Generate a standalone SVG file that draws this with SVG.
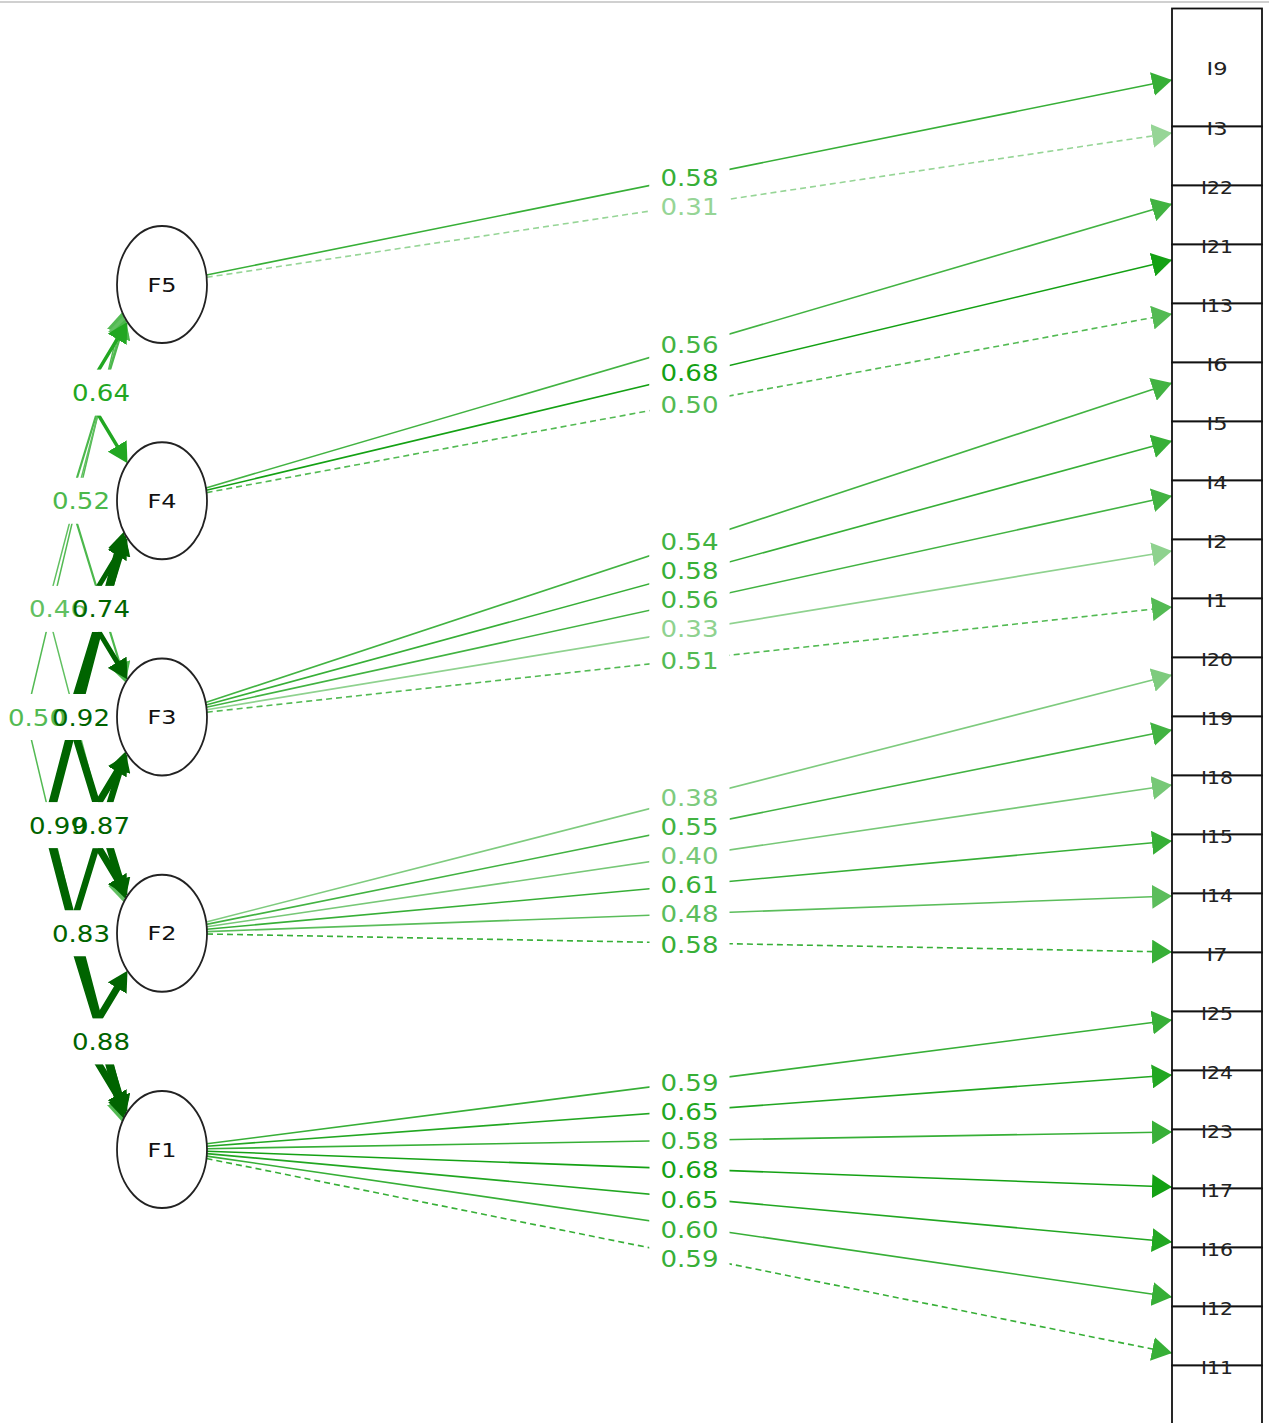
<svg xmlns="http://www.w3.org/2000/svg" width="1269" height="1423" viewBox="0 0 1269 1423">
<style>
.ld{fill:none;stroke-width:1.6}
.ds{stroke-dasharray:6 4}
.cv{fill:none;stroke-linejoin:round}
.lb{font-family:"DejaVu Sans",sans-serif;font-size:23px;text-anchor:middle}
.bg{fill:#fff}
.nd ellipse{fill:#fff;stroke:#222;stroke-width:1.8}
.nt{font-family:"DejaVu Sans",sans-serif;font-size:19px;text-anchor:middle;fill:#111}
.it rect{fill:#fff;stroke:#111;stroke-width:1.8}
.itx{font-family:"DejaVu Sans",sans-serif;font-size:17px;text-anchor:middle;fill:#222}
</style>
<defs>
<marker id="a31" markerUnits="userSpaceOnUse" markerWidth="20" markerHeight="24" refX="20" refY="12" orient="auto"><path d="M0,0L20,12L0,24z" fill="#96d596"/></marker>
<marker id="a33" markerUnits="userSpaceOnUse" markerWidth="20" markerHeight="24" refX="20" refY="12" orient="auto"><path d="M0,0L20,12L0,24z" fill="#8fd28f"/></marker>
<marker id="a38" markerUnits="userSpaceOnUse" markerWidth="20" markerHeight="24" refX="20" refY="12" orient="auto"><path d="M0,0L20,12L0,24z" fill="#7ecb7e"/></marker>
<marker id="a40" markerUnits="userSpaceOnUse" markerWidth="20" markerHeight="24" refX="20" refY="12" orient="auto"><path d="M0,0L20,12L0,24z" fill="#77c877"/></marker>
<marker id="a48" markerUnits="userSpaceOnUse" markerWidth="20" markerHeight="24" refX="20" refY="12" orient="auto"><path d="M0,0L20,12L0,24z" fill="#5bbd5b"/></marker>
<marker id="a50" markerUnits="userSpaceOnUse" markerWidth="20" markerHeight="24" refX="20" refY="12" orient="auto"><path d="M0,0L20,12L0,24z" fill="#53ba53"/></marker>
<marker id="a55" markerUnits="userSpaceOnUse" markerWidth="20" markerHeight="24" refX="20" refY="12" orient="auto"><path d="M0,0L20,12L0,24z" fill="#42b342"/></marker>
<marker id="a58" markerUnits="userSpaceOnUse" markerWidth="20" markerHeight="24" refX="20" refY="12" orient="auto"><path d="M0,0L20,12L0,24z" fill="#37af37"/></marker>
<marker id="a64" markerUnits="userSpaceOnUse" markerWidth="20" markerHeight="24" refX="20" refY="12" orient="auto"><path d="M0,0L20,12L0,24z" fill="#22a722"/></marker>
<marker id="a68" markerUnits="userSpaceOnUse" markerWidth="20" markerHeight="24" refX="20" refY="12" orient="auto"><path d="M0,0L20,12L0,24z" fill="#14a114"/></marker>
<marker id="bdk" markerUnits="userSpaceOnUse" markerWidth="20" markerHeight="22" refX="10" refY="11" orient="auto-start-reverse"><path d="M0,0L20,11L0,22z" fill="#006400"/></marker>
<marker id="b64" markerUnits="userSpaceOnUse" markerWidth="20" markerHeight="22" refX="10" refY="11" orient="auto-start-reverse"><path d="M0,0L20,11L0,22z" fill="#22a722"/></marker>
<marker id="b52" markerUnits="userSpaceOnUse" markerWidth="20" markerHeight="22" refX="10" refY="11" orient="auto-start-reverse"><path d="M0,0L20,11L0,22z" fill="#4cb84c"/></marker>
<marker id="b46" markerUnits="userSpaceOnUse" markerWidth="20" markerHeight="22" refX="10" refY="11" orient="auto-start-reverse"><path d="M0,0L20,11L0,22z" fill="#61c061"/></marker>
<marker id="b50" markerUnits="userSpaceOnUse" markerWidth="20" markerHeight="22" refX="10" refY="11" orient="auto-start-reverse"><path d="M0,0L20,11L0,22z" fill="#53ba53"/></marker>
</defs>
<rect x="0" y="0" width="1269" height="1423" fill="#fff"/>
<line x1="0" y1="2" x2="1269" y2="2" stroke="#d0d0d0" stroke-width="2"/>
<g id="connectors">
<g id="covariances">
<path class="cv" stroke="#53ba53" stroke-width="1.5" marker-start="url(#b50)" marker-end="url(#b50)" d="M119.99,321.73L26,717L119.99,1112.27"/>
<path class="cv" stroke="#61c061" stroke-width="1.5" marker-start="url(#b46)" marker-end="url(#b46)" d="M121.27,325.17L47,608.88L121.27,892.58"/>
<path class="cv" stroke="#4cb84c" stroke-width="2.2" marker-start="url(#b52)" marker-end="url(#b52)" d="M122.68,328.46L70,500.75L122.68,673.04"/>
<path class="cv" stroke="#22a722" stroke-width="3.5" marker-start="url(#b64)" marker-end="url(#b64)" d="M122.34,330.67L85,392.6L122.34,454.58"/>
<path class="cv" stroke="#006400" stroke-width="5" marker-start="url(#bdk)" marker-end="url(#bdk)" d="M122.34,546.92L85,608.9L122.34,670.83"/>
<path class="cv" stroke="#006400" stroke-width="6.5" marker-start="url(#bdk)" marker-end="url(#bdk)" d="M122.68,760.96L70,933.25L122.68,1105.54"/>
<path class="cv" stroke="#006400" stroke-width="7" marker-start="url(#bdk)" marker-end="url(#bdk)" d="M122.34,763.17L85,825.1L122.34,887.08"/>
<path class="cv" stroke="#006400" stroke-width="7" marker-start="url(#bdk)" marker-end="url(#bdk)" d="M122.34,979.42L85,1041.4L122.34,1103.33"/>
<path class="cv" stroke="#006400" stroke-width="7.5" marker-start="url(#bdk)" marker-end="url(#bdk)" d="M122.68,544.71L70,717L122.68,889.29"/>
<path class="cv" stroke="#006400" stroke-width="8.5" marker-start="url(#bdk)" marker-end="url(#bdk)" d="M121.27,541.42L47,825.13L121.27,1108.83"/>
</g>
<g id="loadings">
<path class="ld" stroke="#37af37" marker-end="url(#a58)" d="M206.5,275L1172,80"/>
<path class="ld ds" stroke="#96d596" marker-end="url(#a31)" d="M206.7,277.3L1172,133"/>
<path class="ld" stroke="#42b342" marker-end="url(#a55)" d="M205.9,487.9L1172,204"/>
<path class="ld" stroke="#14a114" marker-end="url(#a68)" d="M206.3,490.3L1172,260"/>
<path class="ld ds" stroke="#53ba53" marker-end="url(#a50)" d="M206.6,492.6L1172,314"/>
<path class="ld" stroke="#42b342" marker-end="url(#a55)" d="M205.6,702.6L1172,383"/>
<path class="ld" stroke="#37af37" marker-end="url(#a58)" d="M206,705L1172,441"/>
<path class="ld" stroke="#42b342" marker-end="url(#a55)" d="M206.4,707.3L1172,496"/>
<path class="ld" stroke="#8fd28f" marker-end="url(#a33)" d="M206.7,709.7L1172,551"/>
<path class="ld ds" stroke="#53ba53" marker-end="url(#a50)" d="M206.8,712.2L1172,607"/>
<path class="ld" stroke="#7ecb7e" marker-end="url(#a38)" d="M206.2,922L1172,675"/>
<path class="ld" stroke="#42b342" marker-end="url(#a55)" d="M206.5,924.4L1172,730"/>
<path class="ld" stroke="#77c877" marker-end="url(#a40)" d="M206.7,926.7L1172,785"/>
<path class="ld" stroke="#37af37" marker-end="url(#a58)" d="M206.9,929.2L1172,841"/>
<path class="ld" stroke="#5bbd5b" marker-end="url(#a48)" d="M207,931.6L1172,896"/>
<path class="ld ds" stroke="#37af37" marker-end="url(#a58)" d="M207,934L1172,952"/>
<path class="ld" stroke="#37af37" marker-end="url(#a58)" d="M206.8,1143.8L1172,1020"/>
<path class="ld" stroke="#22a722" marker-end="url(#a64)" d="M206.9,1146.2L1172,1075"/>
<path class="ld" stroke="#37af37" marker-end="url(#a58)" d="M207,1148.7L1172,1132"/>
<path class="ld" stroke="#14a114" marker-end="url(#a68)" d="M207,1151.2L1172,1187"/>
<path class="ld" stroke="#22a722" marker-end="url(#a64)" d="M206.9,1153.6L1172,1242"/>
<path class="ld" stroke="#37af37" marker-end="url(#a58)" d="M206.7,1156.1L1172,1297"/>
<path class="ld ds" stroke="#37af37" marker-end="url(#a58)" d="M206.5,1158.5L1172,1353"/>
</g>
<g id="label-backgrounds" class="bg">
<rect x="61" y="369.6" width="80" height="46"/>
<rect x="41" y="477.75" width="80" height="46"/>
<rect x="18" y="585.9" width="80" height="46"/>
<rect x="61" y="585.9" width="80" height="46"/>
<rect x="-3" y="694" width="80" height="46"/>
<rect x="41" y="694" width="80" height="46"/>
<rect x="18" y="802.1" width="80" height="46"/>
<rect x="61" y="802.1" width="80" height="46"/>
<rect x="41" y="910.25" width="80" height="46"/>
<rect x="61" y="1018.4" width="80" height="46"/>
<rect x="649.5" y="154" width="80" height="46"/>
<rect x="649.5" y="183" width="80" height="46"/>
<rect x="649.5" y="321" width="80" height="46"/>
<rect x="649.5" y="349" width="80" height="46"/>
<rect x="649.5" y="381" width="80" height="46"/>
<rect x="649.5" y="518" width="80" height="46"/>
<rect x="649.5" y="547" width="80" height="46"/>
<rect x="649.5" y="576" width="80" height="46"/>
<rect x="649.5" y="605" width="80" height="46"/>
<rect x="649.5" y="637" width="80" height="46"/>
<rect x="649.5" y="774" width="80" height="46"/>
<rect x="649.5" y="803" width="80" height="46"/>
<rect x="649.5" y="832" width="80" height="46"/>
<rect x="649.5" y="861" width="80" height="46"/>
<rect x="649.5" y="890" width="80" height="46"/>
<rect x="649.5" y="921" width="80" height="46"/>
<rect x="649.5" y="1059" width="80" height="46"/>
<rect x="649.5" y="1088" width="80" height="46"/>
<rect x="649.5" y="1117" width="80" height="46"/>
<rect x="649.5" y="1146" width="80" height="46"/>
<rect x="649.5" y="1176" width="80" height="46"/>
<rect x="649.5" y="1206" width="80" height="46"/>
<rect x="649.5" y="1235" width="80" height="46"/>
</g>
<g id="edge-labels" class="lb">
<text x="101" y="401.1" fill="#22a722" textLength="58" lengthAdjust="spacingAndGlyphs">0.64</text>
<text x="81" y="509.25" fill="#4cb84c" textLength="58" lengthAdjust="spacingAndGlyphs">0.52</text>
<text x="58" y="617.4" fill="#61c061" textLength="58" lengthAdjust="spacingAndGlyphs">0.46</text>
<text x="101" y="617.4" fill="#006400" textLength="58" lengthAdjust="spacingAndGlyphs">0.74</text>
<text x="37" y="725.5" fill="#53ba53" textLength="58" lengthAdjust="spacingAndGlyphs">0.50</text>
<text x="81" y="725.5" fill="#006400" textLength="58" lengthAdjust="spacingAndGlyphs">0.92</text>
<text x="58" y="833.6" fill="#006400" textLength="58" lengthAdjust="spacingAndGlyphs">0.99</text>
<text x="101" y="833.6" fill="#006400" textLength="58" lengthAdjust="spacingAndGlyphs">0.87</text>
<text x="81" y="941.75" fill="#006400" textLength="58" lengthAdjust="spacingAndGlyphs">0.83</text>
<text x="101" y="1049.9" fill="#006400" textLength="58" lengthAdjust="spacingAndGlyphs">0.88</text>
<text x="689.5" y="185.5" fill="#37af37" textLength="58" lengthAdjust="spacingAndGlyphs">0.58</text>
<text x="689.5" y="214.5" fill="#96d596" textLength="58" lengthAdjust="spacingAndGlyphs">0.31</text>
<text x="689.5" y="352.5" fill="#42b342" textLength="58" lengthAdjust="spacingAndGlyphs">0.56</text>
<text x="689.5" y="380.5" fill="#14a114" textLength="58" lengthAdjust="spacingAndGlyphs">0.68</text>
<text x="689.5" y="412.5" fill="#53ba53" textLength="58" lengthAdjust="spacingAndGlyphs">0.50</text>
<text x="689.5" y="549.5" fill="#42b342" textLength="58" lengthAdjust="spacingAndGlyphs">0.54</text>
<text x="689.5" y="578.5" fill="#37af37" textLength="58" lengthAdjust="spacingAndGlyphs">0.58</text>
<text x="689.5" y="607.5" fill="#42b342" textLength="58" lengthAdjust="spacingAndGlyphs">0.56</text>
<text x="689.5" y="636.5" fill="#8fd28f" textLength="58" lengthAdjust="spacingAndGlyphs">0.33</text>
<text x="689.5" y="668.5" fill="#53ba53" textLength="58" lengthAdjust="spacingAndGlyphs">0.51</text>
<text x="689.5" y="805.5" fill="#7ecb7e" textLength="58" lengthAdjust="spacingAndGlyphs">0.38</text>
<text x="689.5" y="834.5" fill="#42b342" textLength="58" lengthAdjust="spacingAndGlyphs">0.55</text>
<text x="689.5" y="863.5" fill="#77c877" textLength="58" lengthAdjust="spacingAndGlyphs">0.40</text>
<text x="689.5" y="892.5" fill="#37af37" textLength="58" lengthAdjust="spacingAndGlyphs">0.61</text>
<text x="689.5" y="921.5" fill="#5bbd5b" textLength="58" lengthAdjust="spacingAndGlyphs">0.48</text>
<text x="689.5" y="952.5" fill="#37af37" textLength="58" lengthAdjust="spacingAndGlyphs">0.58</text>
<text x="689.5" y="1090.5" fill="#37af37" textLength="58" lengthAdjust="spacingAndGlyphs">0.59</text>
<text x="689.5" y="1119.5" fill="#22a722" textLength="58" lengthAdjust="spacingAndGlyphs">0.65</text>
<text x="689.5" y="1148.5" fill="#37af37" textLength="58" lengthAdjust="spacingAndGlyphs">0.58</text>
<text x="689.5" y="1177.5" fill="#14a114" textLength="58" lengthAdjust="spacingAndGlyphs">0.68</text>
<text x="689.5" y="1207.5" fill="#22a722" textLength="58" lengthAdjust="spacingAndGlyphs">0.65</text>
<text x="689.5" y="1237.5" fill="#37af37" textLength="58" lengthAdjust="spacingAndGlyphs">0.60</text>
<text x="689.5" y="1266.5" fill="#37af37" textLength="58" lengthAdjust="spacingAndGlyphs">0.59</text>
</g>
</g>
<g id="F5" class="nd"><ellipse cx="162" cy="284.5" rx="45" ry="58.5"/><text class="nt" x="162" y="291.5" textLength="29" lengthAdjust="spacingAndGlyphs">F5</text></g>
<g id="F4" class="nd"><ellipse cx="162" cy="500.75" rx="45" ry="58.5"/><text class="nt" x="162" y="507.75" textLength="29" lengthAdjust="spacingAndGlyphs">F4</text></g>
<g id="F3" class="nd"><ellipse cx="162" cy="717" rx="45" ry="58.5"/><text class="nt" x="162" y="724" textLength="29" lengthAdjust="spacingAndGlyphs">F3</text></g>
<g id="F2" class="nd"><ellipse cx="162" cy="933.25" rx="45" ry="58.5"/><text class="nt" x="162" y="940.25" textLength="29" lengthAdjust="spacingAndGlyphs">F2</text></g>
<g id="F1" class="nd"><ellipse cx="162" cy="1149.5" rx="45" ry="58.5"/><text class="nt" x="162" y="1156.5" textLength="29" lengthAdjust="spacingAndGlyphs">F1</text></g>
<g id="I9" class="it"><rect x="1172" y="8.5" width="90" height="118"/><text class="itx" x="1217" y="74.5" textLength="21" lengthAdjust="spacingAndGlyphs">I9</text></g>
<g id="I3" class="it"><rect x="1172" y="126.5" width="90" height="59"/><text class="itx" x="1217" y="134.5" textLength="21" lengthAdjust="spacingAndGlyphs">I3</text></g>
<g id="I22" class="it"><rect x="1172" y="185.5" width="90" height="59"/><text class="itx" x="1217" y="193.5" textLength="32" lengthAdjust="spacingAndGlyphs">I22</text></g>
<g id="I21" class="it"><rect x="1172" y="244.5" width="90" height="59"/><text class="itx" x="1217" y="252.5" textLength="32" lengthAdjust="spacingAndGlyphs">I21</text></g>
<g id="I13" class="it"><rect x="1172" y="303.5" width="90" height="59"/><text class="itx" x="1217" y="311.5" textLength="32" lengthAdjust="spacingAndGlyphs">I13</text></g>
<g id="I6" class="it"><rect x="1172" y="362.5" width="90" height="59"/><text class="itx" x="1217" y="370.5" textLength="21" lengthAdjust="spacingAndGlyphs">I6</text></g>
<g id="I5" class="it"><rect x="1172" y="421.5" width="90" height="59"/><text class="itx" x="1217" y="429.5" textLength="21" lengthAdjust="spacingAndGlyphs">I5</text></g>
<g id="I4" class="it"><rect x="1172" y="480.5" width="90" height="59"/><text class="itx" x="1217" y="488.5" textLength="21" lengthAdjust="spacingAndGlyphs">I4</text></g>
<g id="I2" class="it"><rect x="1172" y="539.5" width="90" height="59"/><text class="itx" x="1217" y="547.5" textLength="21" lengthAdjust="spacingAndGlyphs">I2</text></g>
<g id="I1" class="it"><rect x="1172" y="598.5" width="90" height="59"/><text class="itx" x="1217" y="606.5" textLength="21" lengthAdjust="spacingAndGlyphs">I1</text></g>
<g id="I20" class="it"><rect x="1172" y="657.5" width="90" height="59"/><text class="itx" x="1217" y="665.5" textLength="32" lengthAdjust="spacingAndGlyphs">I20</text></g>
<g id="I19" class="it"><rect x="1172" y="716.5" width="90" height="59"/><text class="itx" x="1217" y="724.5" textLength="32" lengthAdjust="spacingAndGlyphs">I19</text></g>
<g id="I18" class="it"><rect x="1172" y="775.5" width="90" height="59"/><text class="itx" x="1217" y="783.5" textLength="32" lengthAdjust="spacingAndGlyphs">I18</text></g>
<g id="I15" class="it"><rect x="1172" y="834.5" width="90" height="59"/><text class="itx" x="1217" y="842.5" textLength="32" lengthAdjust="spacingAndGlyphs">I15</text></g>
<g id="I14" class="it"><rect x="1172" y="893.5" width="90" height="59"/><text class="itx" x="1217" y="901.5" textLength="32" lengthAdjust="spacingAndGlyphs">I14</text></g>
<g id="I7" class="it"><rect x="1172" y="952.5" width="90" height="59"/><text class="itx" x="1217" y="960.5" textLength="21" lengthAdjust="spacingAndGlyphs">I7</text></g>
<g id="I25" class="it"><rect x="1172" y="1011.5" width="90" height="59"/><text class="itx" x="1217" y="1019.5" textLength="32" lengthAdjust="spacingAndGlyphs">I25</text></g>
<g id="I24" class="it"><rect x="1172" y="1070.5" width="90" height="59"/><text class="itx" x="1217" y="1078.5" textLength="32" lengthAdjust="spacingAndGlyphs">I24</text></g>
<g id="I23" class="it"><rect x="1172" y="1129.5" width="90" height="59"/><text class="itx" x="1217" y="1137.5" textLength="32" lengthAdjust="spacingAndGlyphs">I23</text></g>
<g id="I17" class="it"><rect x="1172" y="1188.5" width="90" height="59"/><text class="itx" x="1217" y="1196.5" textLength="32" lengthAdjust="spacingAndGlyphs">I17</text></g>
<g id="I16" class="it"><rect x="1172" y="1247.5" width="90" height="59"/><text class="itx" x="1217" y="1255.5" textLength="32" lengthAdjust="spacingAndGlyphs">I16</text></g>
<g id="I12" class="it"><rect x="1172" y="1306.5" width="90" height="59"/><text class="itx" x="1217" y="1314.5" textLength="32" lengthAdjust="spacingAndGlyphs">I12</text></g>
<g id="I11" class="it"><rect x="1172" y="1365.5" width="90" height="70"/><text class="itx" x="1217" y="1373.5" textLength="32" lengthAdjust="spacingAndGlyphs">I11</text></g>
</svg>
